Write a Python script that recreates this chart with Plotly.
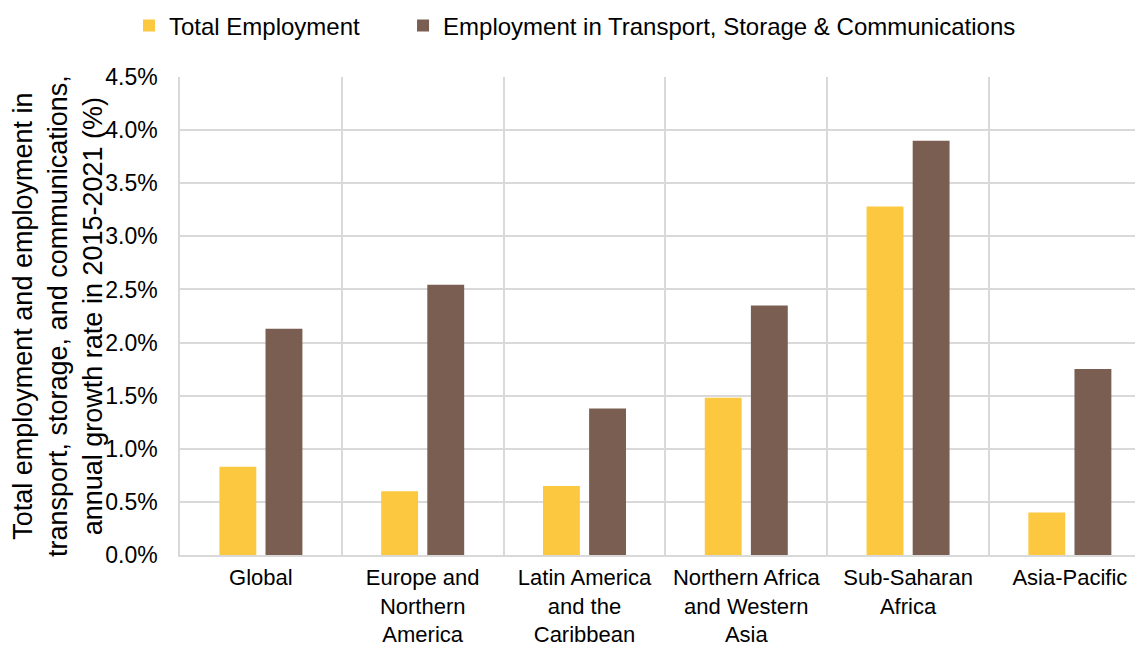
import plotly.graph_objects as go

categories = ["Global", "Europe and<br>Northern<br>America", "Latin America<br>and the<br>Caribbean",
              "Northern Africa<br>and Western<br>Asia", "Sub-Saharan<br>Africa", "Asia-Pacific"]
total_employment = [0.83, 0.60, 0.65, 1.48, 3.28, 0.40]
transport_employment = [2.13, 2.545, 1.38, 2.35, 3.90, 1.75]
series_names = ["Total Employment", "Employment in Transport, Storage & Communications"]
y_ticks = [0, 0.5, 1.0, 1.5, 2.0, 2.5, 3.0, 3.5, 4.0, 4.5]
y_tick_labels = ["0.0%", "0.5%", "1.0%", "1.5%", "2.0%", "2.5%", "3.0%", "3.5%", "4.0%", "4.5%"]
y_title = ("Total employment and employment in<br>transport, storage, and communications,"
           "<br>annual growth rate in 2015-2021 (%)")

YELLOW = "#FCC83F"
BROWN = "#7A5E52"
GRID = "#D9D9D9"
FONT = "Liberation Sans, Arial, sans-serif"

fig = go.Figure()
fig.add_trace(go.Bar(x=categories, y=total_employment, name=series_names[0],
                     marker=dict(color=YELLOW, line=dict(width=0)), legend="legend"))
fig.add_trace(go.Bar(x=categories, y=transport_employment, name=series_names[1],
                     marker=dict(color=BROWN, line=dict(width=0)), legend="legend2"))

legend_common = dict(orientation="h", xanchor="left", y=1.107, yanchor="middle", yref="paper",
                     font=dict(size=24, family=FONT, color="#000000"),
                     itemwidth=30, bgcolor="rgba(0,0,0,0)")

fig.update_layout(
    width=1135, height=641,
    margin=dict(l=172, r=0, t=69, b=94, autoexpand=False),
    paper_bgcolor="white", plot_bgcolor="white",
    font=dict(family=FONT, size=23, color="#000000"),
    barmode="group", bargap=0.43, bargroupgap=0.2,
    showlegend=True,
    legend=dict(x=-0.053, **legend_common),
    legend2=dict(x=0.2316, **legend_common),
    annotations=[dict(text=y_title, textangle=-90, xref="paper", yref="paper",
                      x=0, y=0.5, xanchor="center", yanchor="middle",
                      xshift=-122, showarrow=False, align="center",
                      font=dict(size=27, family=FONT, color="#000000"))],
)

fig.update_xaxes(
    type="category", range=[-0.5, 5.452], automargin=False,
    tickson="boundaries", showgrid=True, gridcolor=GRID, gridwidth=1.5,
    showline=True, linecolor=GRID, linewidth=1.5,
    ticks="outside", ticklen=21, tickcolor="rgba(0,0,0,0)",
    ticklabelstandoff=2,
    tickangle=0, tickfont=dict(size=22), fixedrange=True,
)
fig.update_yaxes(
    range=[0, 4.5], tickvals=y_ticks, ticktext=y_tick_labels, automargin=False,
    showgrid=True, gridcolor=GRID, gridwidth=1.5, zeroline=False,
    showline=True, linecolor=GRID, linewidth=1.5,
    ticks="outside", ticklen=16, tickcolor="rgba(0,0,0,0)",
    tickfont=dict(size=23), fixedrange=True,
)

fig.write_html("out.html")
